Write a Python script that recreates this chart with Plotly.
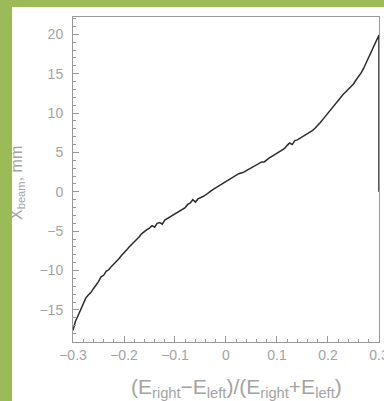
import plotly.graph_objects as go

x_ratio = [
    -0.300, -0.295, -0.290, -0.285, -0.280, -0.275, -0.270, -0.265, -0.260, -0.255,
    -0.250, -0.245, -0.240, -0.235, -0.230, -0.225, -0.220, -0.215, -0.210, -0.205,
    -0.200, -0.195, -0.190, -0.185, -0.180, -0.175, -0.170, -0.165, -0.160, -0.155,
    -0.150, -0.145, -0.140, -0.135, -0.130, -0.125, -0.120, -0.115, -0.110, -0.105,
    -0.100, -0.095, -0.090, -0.085, -0.080, -0.075, -0.070, -0.065, -0.060, -0.055,
    -0.050, -0.045, -0.040, -0.035, -0.030, -0.025, -0.020, -0.015, -0.010, -0.005,
    0.000, 0.005, 0.010, 0.015, 0.020, 0.025, 0.030, 0.035, 0.040, 0.045,
    0.050, 0.055, 0.060, 0.065, 0.070, 0.075, 0.080, 0.085, 0.090, 0.095,
    0.100, 0.105, 0.110, 0.115, 0.120, 0.125, 0.130, 0.135, 0.140, 0.145,
    0.150, 0.155, 0.160, 0.165, 0.170, 0.175, 0.180, 0.185, 0.190, 0.195,
    0.200, 0.205, 0.210, 0.215, 0.220, 0.225, 0.230, 0.235, 0.240, 0.245,
    0.250, 0.255, 0.260, 0.265, 0.270, 0.275, 0.280, 0.285, 0.290, 0.295,
    0.300, 0.300,
]

x_beam_mm = [
    -17.6, -16.4, -15.7, -15.0, -14.3, -13.5, -13.1, -12.8, -12.3, -11.9,
    -11.4, -10.8, -10.6, -10.1, -9.9, -9.5, -9.2, -8.8, -8.5, -8.1,
    -7.8, -7.4, -7.0, -6.7, -6.3, -6.0, -5.7, -5.3, -5.0, -4.8,
    -4.6, -4.3, -4.5, -4.0, -3.9, -4.1, -3.6, -3.4, -3.2, -3.0,
    -2.8, -2.5, -2.3, -2.2, -2.0, -1.6, -1.4, -1.0, -1.3, -0.9,
    -0.8, -0.6, -0.4, -0.1, 0.1, 0.3, 0.5, 0.8, 0.9, 1.2,
    1.4, 1.6, 1.8, 1.9, 2.1, 2.3, 2.4, 2.5, 2.7, 2.9,
    3.0, 3.2, 3.4, 3.6, 3.8, 3.8, 4.1, 4.3, 4.5, 4.7,
    4.9, 5.1, 5.3, 5.5, 5.9, 6.2, 6.0, 6.5, 6.6, 6.8,
    6.9, 7.1, 7.3, 7.5, 7.8, 8.1, 8.4, 8.8, 9.2, 9.6,
    10.0, 10.4, 10.8, 11.3, 11.7, 12.1, 12.4, 12.7, 13.0, 13.3,
    13.7, 14.2, 14.6, 15.1, 15.7, 16.4, 17.0, 17.6, 18.3, 19.2,
    19.9, 0.0,
]

x_tick_vals = [-0.3, -0.2, -0.1, 0, 0.1, 0.2, 0.3]
x_tick_text = ["\u22120.3", "\u22120.2", "\u22120.1", "0", "0.1", "0.2", "0.3"]
y_tick_vals = [-15, -10, -5, 0, 5, 10, 15, 20]
y_tick_text = ["\u221215", "\u221210", "\u22125", "0", "5", "10", "15", "20"]

GREEN = "#9bbb59"
TXT = "#a3a3a3"
AX = "#999999"

fig = go.Figure()
fig.add_trace(go.Scatter(
    x=x_ratio, y=x_beam_mm, mode="lines",
    line=dict(color="#2b2b2b", width=1.5),
    showlegend=False, hoverinfo="skip",
))

W, H = 384, 401
L, R, T, B = 73, 5, 17, 59
pw, ph = W - L - R, H - T - B

def px_to_paper_x(px):
    return (px - L) / pw

def px_to_paper_y(py):
    return (H - B - py) / ph

fig.add_shape(type="rect", xref="paper", yref="paper",
              x0=px_to_paper_x(12), x1=px_to_paper_x(W + 5),
              y0=px_to_paper_y(H + 5), y1=px_to_paper_y(7),
              fillcolor="white", line=dict(width=0), layer="below")

fig.update_layout(
    width=W, height=H,
    margin=dict(l=L, r=R, t=T, b=B, pad=0, autoexpand=False),
    paper_bgcolor=GREEN, plot_bgcolor="white",
    font=dict(family="Liberation Sans, Arial, sans-serif", color=TXT, size=14),
    xaxis=dict(
        range=[-0.3, 0.30005], showgrid=False, zeroline=False,
        showline=True, linecolor=AX, linewidth=1, mirror=True,
        tickmode="array", tickvals=x_tick_vals, ticktext=x_tick_text,
        ticks="inside", ticklen=6, tickcolor=AX, tickwidth=1,
        minor=dict(dtick=0.02, tick0=0, ticks="inside", ticklen=3, tickcolor=AX),
        tickfont=dict(size=14, color=TXT),
        ticklabeloverflow="allow", automargin=False,
    ),
    yaxis=dict(
        range=[-19.07, 22.2], showgrid=False, zeroline=False,
        showline=True, linecolor=AX, linewidth=1, mirror=True,
        tickmode="array", tickvals=y_tick_vals, ticktext=y_tick_text,
        ticks="inside", ticklen=6, tickcolor=AX, tickwidth=1,
        minor=dict(dtick=1, tick0=0, ticks="inside", ticklen=3, tickcolor=AX),
        tickfont=dict(size=14, color=TXT),
        ticklabelstandoff=6, automargin=False,
    ),
    annotations=[
        dict(text="(E<sub>right</sub>\u2212E<sub>left</sub>)/(E<sub>right</sub>+E<sub>left</sub>)",
             xref="paper", yref="paper",
             x=px_to_paper_x(236), y=px_to_paper_y(388),
             showarrow=False, xanchor="center", yanchor="middle",
             font=dict(size=21, color=TXT)),
        dict(text="X<sub>beam</sub>, mm",
             xref="paper", yref="paper",
             x=px_to_paper_x(17), y=px_to_paper_y(183),
             showarrow=False, xanchor="center", yanchor="middle",
             textangle=-90, font=dict(size=16, color=TXT)),
    ],
)

fig.write_html("out.html")
